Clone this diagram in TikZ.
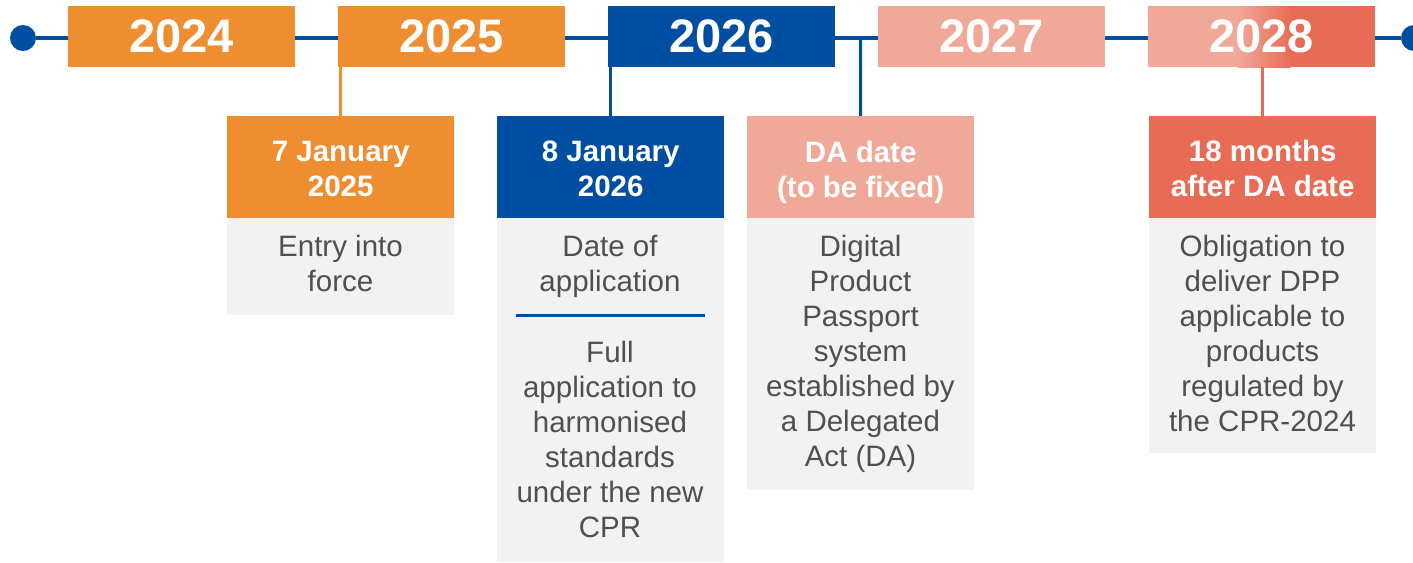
\documentclass[tikz,border=0pt]{standalone}
\usepackage{fontspec}
\setmainfont{Liberation Sans}
\definecolor{corange}{HTML}{EE8E31}
\definecolor{cblue}{HTML}{004EA2}
\definecolor{cpink}{HTML}{F0A898}
\definecolor{cred}{HTML}{E86C55}
\definecolor{cgray}{HTML}{F2F2F2}
\definecolor{ctext}{HTML}{505050}
\newcommand{\hstrut}{\rule{0pt}{24.5pt}}
\newcommand{\hstrutb}{\rule{0pt}{31pt}}
\begin{document}
\begin{tikzpicture}[x=1pt,y=-1pt,
  yearbox/.style={fill=#1, text=white, font=\fontsize{47}{50}\selectfont\bfseries, minimum width=227pt, minimum height=61pt, inner sep=0pt, anchor=north west},
  headbox/.style={fill=#1, text=white, font=\fontsize{29.5}{35}\selectfont\bfseries, minimum width=227pt, minimum height=102pt, inner sep=0pt, anchor=north west, align=center},
  bodybox/.style={fill=cgray, minimum width=227pt, minimum height=#1, inner sep=0pt, anchor=north west},
  bodytext/.style={text=ctext, font=\fontsize{29.5}{35}\selectfont, align=center, anchor=north, inner sep=0pt},
  dot/.style={circle, fill=cblue, minimum size=26pt, inner sep=0pt},
  conn/.style={line width=3pt, draw=#1}
]
\useasboundingbox (0,0) rectangle (1413,562);
% timeline
\node[dot] (d1) at (23,38) {};
\node[dot] (d2) at (1414,38) {};
\draw[conn=cblue, line width=3.5pt] (d1) -- (d2);
\coordinate (t3) at (860.5,38);
% gradient background of the 2028 box
\fill[cpink] (1148,6) rectangle (1238,67);
\shade[left color=cpink, right color=cred] (1237.5,6) rectangle (1290.5,67);
\fill[cred] (1290,6) rectangle (1375,67);
% year boxes
\node[yearbox=corange] (y2024) at (68,6) {\raisebox{-1.5pt}{2024}};
\node[yearbox=corange] (y2025) at (338,6) {\raisebox{-1.5pt}{2025}};
\node[yearbox=cblue] (y2026) at (608,6) {\raisebox{-1.5pt}{2026}};
\node[yearbox=cpink] (y2027) at (878,6) {\raisebox{-1.5pt}{2027}};
\node[yearbox=none] (y2028) at (1148,6) {\raisebox{-1.5pt}{2028}};
% body boxes
\node[bodybox=97pt] (b1) at (227,218) {};
\node[bodybox=344pt] (b2) at (497,218) {};
\node[bodybox=272pt] (b3) at (747,218) {};
\node[bodybox=235pt] (b4) at (1149,218) {};
% header boxes
\node[headbox=corange] (h1) at (227,116) {\hstrut7 January\\2025};
\node[headbox=cblue] (h2) at (497,116) {\hstrut8 January\\2026};
\node[headbox=cpink] (h3) at (747,116) {\hstrutb DA date\\(to be fixed)};
\node[headbox=cred] (h4) at (1149,116) {\hstrut18 months\\after DA date};
% connectors
\draw[conn=corange] (h1.north |- y2025.south) -- (h1.north);
\draw[conn=cblue] (h2.north |- y2026.south) -- (h2.north);
\draw[conn=cblue] (t3) -- (h3.north);
\draw[conn=cred] (h4.north |- y2028.south) -- (h4.north);
% body texts
\node[bodytext] (x1) at (340.5,235) {Entry into\\force};
\node[bodytext] (x2a) at (610,235) {Date of\\application};
\coordinate (l2a) at (516,315);
\coordinate (l2b) at (705,315);
\draw[conn=cblue] (l2a) -- (l2b);
\node[bodytext] (x2b) at (610,341) {Full\\application to\\harmonised\\standards\\under the new\\CPR};
\node[bodytext] (x3) at (860.5,235) {Digital\\Product\\Passport\\system\\established by\\a Delegated\\Act (DA)};
\node[bodytext] (x4) at (1262.5,235) {Obligation to\\deliver DPP\\applicable to\\products\\regulated by\\the CPR-2024};
\end{tikzpicture}
\end{document}
